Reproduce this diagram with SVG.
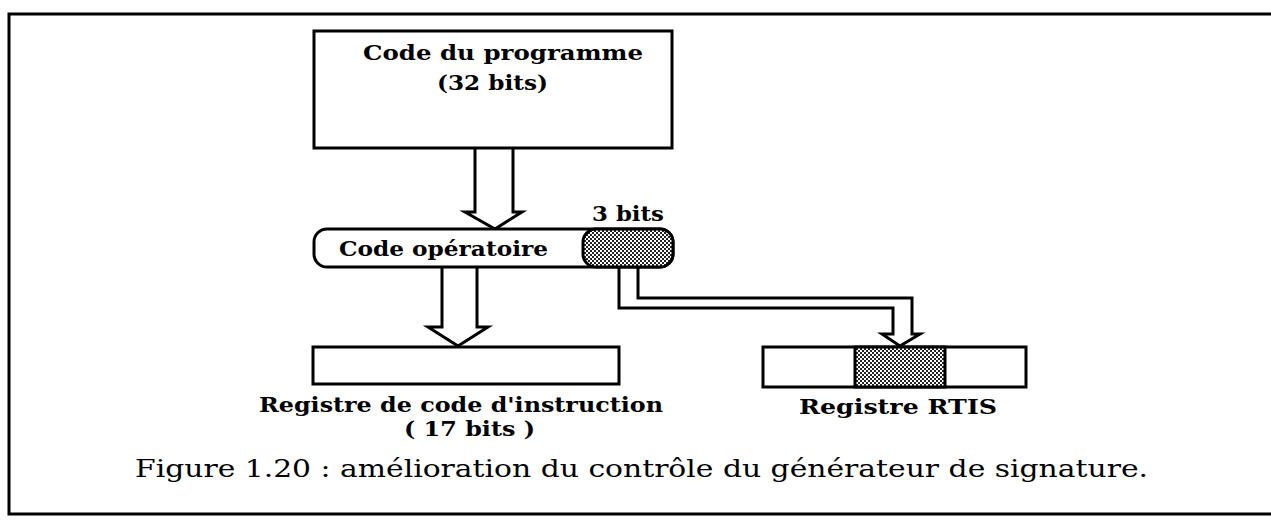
<svg xmlns="http://www.w3.org/2000/svg" width="1271" height="527" viewBox="0 0 1271 527">
  <defs>
    <pattern id="hatch" width="4" height="4" patternUnits="userSpaceOnUse">
      <rect width="4" height="4" fill="#ffffff"/>
      <rect x="0" y="0" width="2" height="2" fill="#222"/>
      <rect x="2" y="2" width="2" height="2" fill="#222"/>
    </pattern>
    <style>
      .box { fill: #ffffff; stroke: #000; stroke-width: 3; }
      .shade { fill: url(#hatch); stroke: #000; stroke-width: 3; }
      .arrow { fill: #ffffff; stroke: #000; stroke-width: 3; stroke-linejoin: miter; }
      .lbl { font-family: "DejaVu Serif", "Liberation Serif", serif; font-weight: bold; font-size: 21px; fill: #000; }
      .cap { font-family: "DejaVu Serif", "Liberation Serif", serif; font-size: 25px; fill: #000; }
    </style>
  </defs>
  <rect width="1271" height="527" fill="#ffffff"/>
  <path d="M1275,14 H9 V514 H1275" fill="none" stroke="#000" stroke-width="3"/>

  <g id="connectors">
    <path class="arrow" d="M475,148 V212 H465 L495,229 L522,212 H513 V148"/>
    <path class="arrow" d="M442,268 V327 H428 L458,346 L488,327 H477 V268"/>
    <path class="arrow" d="M619,268 V308 H893 V334 H882 L900,346 L920,334 H912 V298 H638 V268"/>
  </g>

  <g id="programme">
    <rect class="box" x="314" y="31" width="358" height="117"/>
    <text class="lbl" x="363" y="60" textLength="280" lengthAdjust="spacingAndGlyphs">Code du programme</text>
    <text class="lbl" x="437" y="90" textLength="111" lengthAdjust="spacingAndGlyphs">(32 bits)</text>
  </g>

  <g id="code-operatoire">
    <rect class="box" x="314" y="229" width="359" height="38" rx="13" ry="13"/>
    <rect class="shade" x="583" y="229" width="90" height="38" rx="13" ry="13"/>
    <text class="lbl" x="339" y="256" textLength="209" lengthAdjust="spacingAndGlyphs">Code opératoire</text>
    <text class="lbl" x="592" y="221" textLength="72" lengthAdjust="spacingAndGlyphs">3 bits</text>
  </g>

  <g id="registre-instruction">
    <rect class="box" x="313" y="347" width="306" height="37"/>
    <text class="lbl" x="259" y="412" textLength="404" lengthAdjust="spacingAndGlyphs">Registre de code d'instruction</text>
    <text class="lbl" x="404" y="436" textLength="131" lengthAdjust="spacingAndGlyphs">( 17 bits )</text>
  </g>

  <g id="registre-rtis">
    <rect class="box" x="763" y="347" width="263" height="40"/>
    <rect class="shade" x="855" y="347" width="90" height="40"/>
    <text class="lbl" x="799" y="414" textLength="198" lengthAdjust="spacingAndGlyphs">Registre RTIS</text>
  </g>

  <text class="cap" x="135" y="477" textLength="1013" lengthAdjust="spacingAndGlyphs">Figure 1.20 : amélioration du contrôle du générateur de signature.</text>
</svg>
